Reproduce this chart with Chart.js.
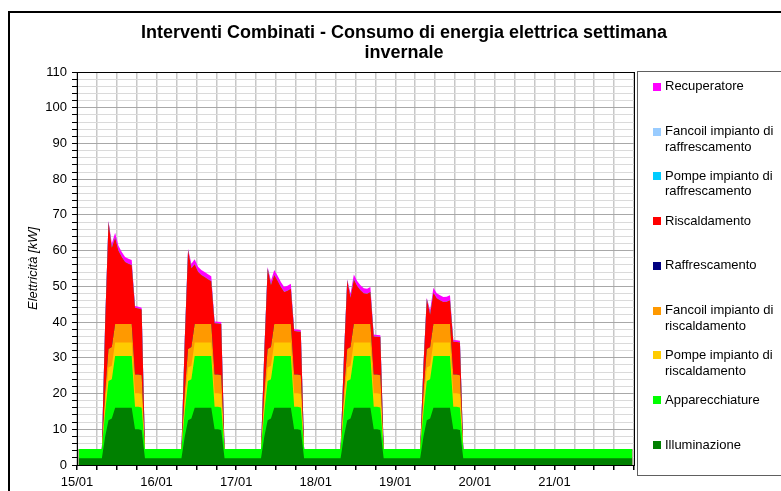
<!DOCTYPE html>
<html>
<head>
<meta charset="utf-8">
<script src="https://cdn.jsdelivr.net/npm/chart.js@4/dist/chart.umd.min.js"></script>
<style>
  html, body { margin: 0; padding: 0; background: #ffffff; }
  canvas { display: block; }
</style>
</head>
<body>
<canvas id="chart" width="781" height="491"></canvas>
<script>
// Day labels on the time axis (one per 24 h)
const dayLabels = ['15/01', '16/01', '17/01', '18/01', '19/01', '20/01', '21/01'];

// Hourly load profiles in kW, hours 0..23
const illumWeekday   = [1.9,1.9,1.9,1.9,1.9,1.9,1.9,1.9, 8,12.5,13,16,16,16,16,16,16,10,10,9.8, 1.9,1.9,1.9,1.9];
const illumWeekend   = [1.9,1.9,1.9,1.9,1.9,1.9,1.9,1.9,1.9,1.9,1.9,1.9,1.9,1.9,1.9,1.9,1.9,1.9,1.9,1.9,1.9,1.9,1.9,1.9];
const appWeekday     = [2.6,2.6,2.6,2.6,2.6,2.6,2.6,2.6, 7,11,11,14.5,14.5,14.5,14.5,14.5,14.5,6.3,6.3,6.3, 2.6,2.6,2.6,2.6];
const appWeekend     = [2.6,2.6,2.6,2.6,2.6,2.6,2.6,2.6,2.6,2.6,2.6,2.6,2.6,2.6,2.6,2.6,2.6,2.6,2.6,2.6,2.6,2.6,2.6,2.6];
const pumpsWeekday   = [0,0,0,0,0,0,0,0, 2.5,3.8,3.8,3.8,3.8,3.8,3.8,3.8,3.8,3.8,3.8,3.8, 0,0,0,0];
const fancoilWeekday = [0,0,0,0,0,0,0,0, 3,5.2,5.2,5.2,5.2,5.2,5.2,5.2,5.2,5.2,5.2,5.2, 0,0,0,0];
const recupWeekday   = [0,0,0,0,0,0,0,0, 0,0.3,1.2,1.4,1.4,1.4,1.4,1.4,1.4,0.5,0.5,0.5, 0,0,0,0];
const zeroDay        = [0,0,0,0,0,0,0,0,0,0,0,0,0,0,0,0,0,0,0,0,0,0,0,0];

// Heating demand per working day
const heat1501 = [0,0,0,0,0,0,0,0, 19.5,35.6,27.8,24.1,20.5,18.7,17.3,16.8,16.5,18.7,18.5,18.4, 0,0,0,0];
const heat1601 = [0,0,0,0,0,0,0,0, 14.5,27.7,22.1,16.7,14.6,13.7,13.1,12.5,11.9,14.4,14.3,14.4, 0,0,0,0];
const heat1701 = [0,0,0,0,0,0,0,0, 11.5,22.6,17.4,13.7,12.1,10.3,8.9,9.3,9.8,12.2,12.1,12.2, 0,0,0,0];
const heat1801 = [0,0,0,0,0,0,0,0, 9.5,19.2,13.8,12.4,10.6,9.4,8.6,8.4,8.9,10.7,10.6,10.7, 0,0,0,0];
const heat1901 = [0,0,0,0,0,0,0,0, 7.5,14.0,9.1,8.7,7.2,6.6,6.1,6.2,6.6,9.2,9.1,9.2, 0,0,0,0];

// Join daily profiles into a week; each hourly value sits in the middle of its hour
function week(days) {
  return days.flat().map((v, i) => ({ x: i + 0.5, y: v }));
}

const wd = (p) => [p, p, p, p, p];

// Bottom to top of the stack
const series = [
  { label: 'Illuminazione', color: '#008000', data: week([...wd(illumWeekday), illumWeekend, illumWeekend]) },
  { label: 'Apparecchiature', color: '#00FF00', data: week([...wd(appWeekday), appWeekend, appWeekend]) },
  { label: 'Pompe impianto di riscaldamento', color: '#FFCC00', data: week([...wd(pumpsWeekday), zeroDay, zeroDay]) },
  { label: 'Fancoil impianto di riscaldamento', color: '#FF9900', data: week([...wd(fancoilWeekday), zeroDay, zeroDay]) },
  { label: 'Raffrescamento', color: '#000080', data: week([zeroDay, zeroDay, zeroDay, zeroDay, zeroDay, zeroDay, zeroDay]) },
  { label: 'Riscaldamento', color: '#FF0000', data: week([heat1501, heat1601, heat1701, heat1801, heat1901, zeroDay, zeroDay]) },
  { label: 'Pompe impianto di raffrescamento', color: '#00CCFF', data: week([zeroDay, zeroDay, zeroDay, zeroDay, zeroDay, zeroDay, zeroDay]) },
  { label: 'Fancoil impianto di raffrescamento', color: '#99CCFF', data: week([zeroDay, zeroDay, zeroDay, zeroDay, zeroDay, zeroDay, zeroDay]) },
  { label: 'Recuperatore', color: '#FF00FF', data: week([...wd(recupWeekday), zeroDay, zeroDay]) }
];

const FONT = '"Liberation Sans", Arial, Helvetica, sans-serif';

// Frame, title, axis title, plot border and legend box
const decorations = {
  id: 'decorations',
  beforeDraw(chart) {
    const ctx = chart.ctx;
    ctx.save();
    ctx.fillStyle = '#ffffff';
    ctx.fillRect(0, 0, chart.width, chart.height);
    ctx.restore();
  },
  afterDraw(chart) {
    const ctx = chart.ctx;
    const a = chart.chartArea;
    ctx.save();

    // outer frame
    ctx.strokeStyle = '#000000';
    ctx.lineWidth = 2;
    ctx.beginPath();
    ctx.moveTo(9, chart.height + 5);
    ctx.lineTo(9, 12);
    ctx.lineTo(chart.width + 5, 12);
    ctx.stroke();

    // plot border
    ctx.lineWidth = 1;
    ctx.strokeStyle = '#000000';
    ctx.strokeRect(Math.round(a.left) + 0.5, Math.round(a.top) + 0.5,
                   Math.round(a.right - a.left), Math.round(a.bottom - a.top));

    // title
    ctx.fillStyle = '#000000';
    ctx.textAlign = 'center';
    ctx.textBaseline = 'middle';
    ctx.font = 'bold 18px ' + FONT;
    ctx.fillText('Interventi Combinati - Consumo di energia elettrica settimana', 404, 33);
    ctx.fillText('invernale', 404, 53);

    // y axis title
    ctx.save();
    ctx.translate(33, (a.top + a.bottom) / 2);
    ctx.rotate(-Math.PI / 2);
    ctx.font = 'italic 13px ' + FONT;
    ctx.fillText('Elettricità [kW]', 0, 0);
    ctx.restore();

    // legend
    ctx.strokeStyle = '#606060';
    ctx.lineWidth = 1;
    ctx.strokeRect(637.5, 71.5, 200, 404);
    ctx.font = '13px ' + FONT;
    ctx.textAlign = 'left';
    ctx.textBaseline = 'middle';
    const ds = chart.data.datasets;
    for (let k = 0; k < ds.length; k++) {
      const d = ds[ds.length - 1 - k];
      const y = 86.7 + k * 44.8;
      ctx.fillStyle = d.backgroundColor;
      ctx.fillRect(653, Math.round(y - 4), 8, 8);
      ctx.fillStyle = '#000000';
      const words = d.label.split(' ');
      const lines = [];
      let cur = '';
      for (const w of words) {
        const t = cur ? cur + ' ' + w : w;
        if (ctx.measureText(t).width > 112 && cur) { lines.push(cur); cur = w; } else { cur = t; }
      }
      lines.push(cur);
      lines.forEach((ln, j) => ctx.fillText(ln, 665, y + j * 15.6));
    }
    ctx.restore();
  }
};

new Chart(document.getElementById('chart'), {
  type: 'line',
  data: {
    datasets: series.map(s => ({
      label: s.label,
      data: s.data,
      backgroundColor: s.color,
      borderColor: 'rgba(0,0,0,0)',
      borderWidth: 0,
      fill: 'origin',
      pointRadius: 0,
      pointHoverRadius: 0,
      tension: 0
    }))
  },
  options: {
    responsive: false,
    animation: false,
    layout: { padding: { top: 72, right: 147, bottom: 0, left: 0 } },
    plugins: {
      legend: { display: false },
      title: { display: false },
      tooltip: { enabled: false }
    },
    scales: {
      x: {
        type: 'linear',
        min: 0,
        max: 168,
        ticks: {
          stepSize: 6,
          autoSkip: false,
          maxRotation: 0,
          minRotation: 0,
          padding: 5,
          color: '#000000',
          font: { family: FONT, size: 13 },
          callback: (v) => (v % 24 === 0 ? (dayLabels[v / 24] || '') : '')
        },
        grid: { color: '#c8c8c8', lineWidth: 1.5, tickColor: '#000000', tickLength: 5 },
        border: { color: '#000000', width: 1 },
        afterFit: (s) => { s.height = 26; }
      },
      y: {
        stacked: true,
        min: 0,
        max: 110,
        ticks: {
          stepSize: 2,
          autoSkip: false,
          padding: 5,
          color: '#000000',
          font: { family: FONT, size: 13 },
          callback: (v) => (v % 10 === 0 ? String(v) : '')
        },
        grid: {
          color: (c) => (c.tick && c.tick.value % 10 === 0 ? '#a8a8a8' : '#dadada'),
          lineWidth: 1,
          tickColor: '#000000',
          tickLength: 5
        },
        border: { color: '#000000', width: 1 },
        afterFit: (s) => { s.width = 77; }
      }
    }
  },
  plugins: [decorations]
});
</script>
</body>
</html>
